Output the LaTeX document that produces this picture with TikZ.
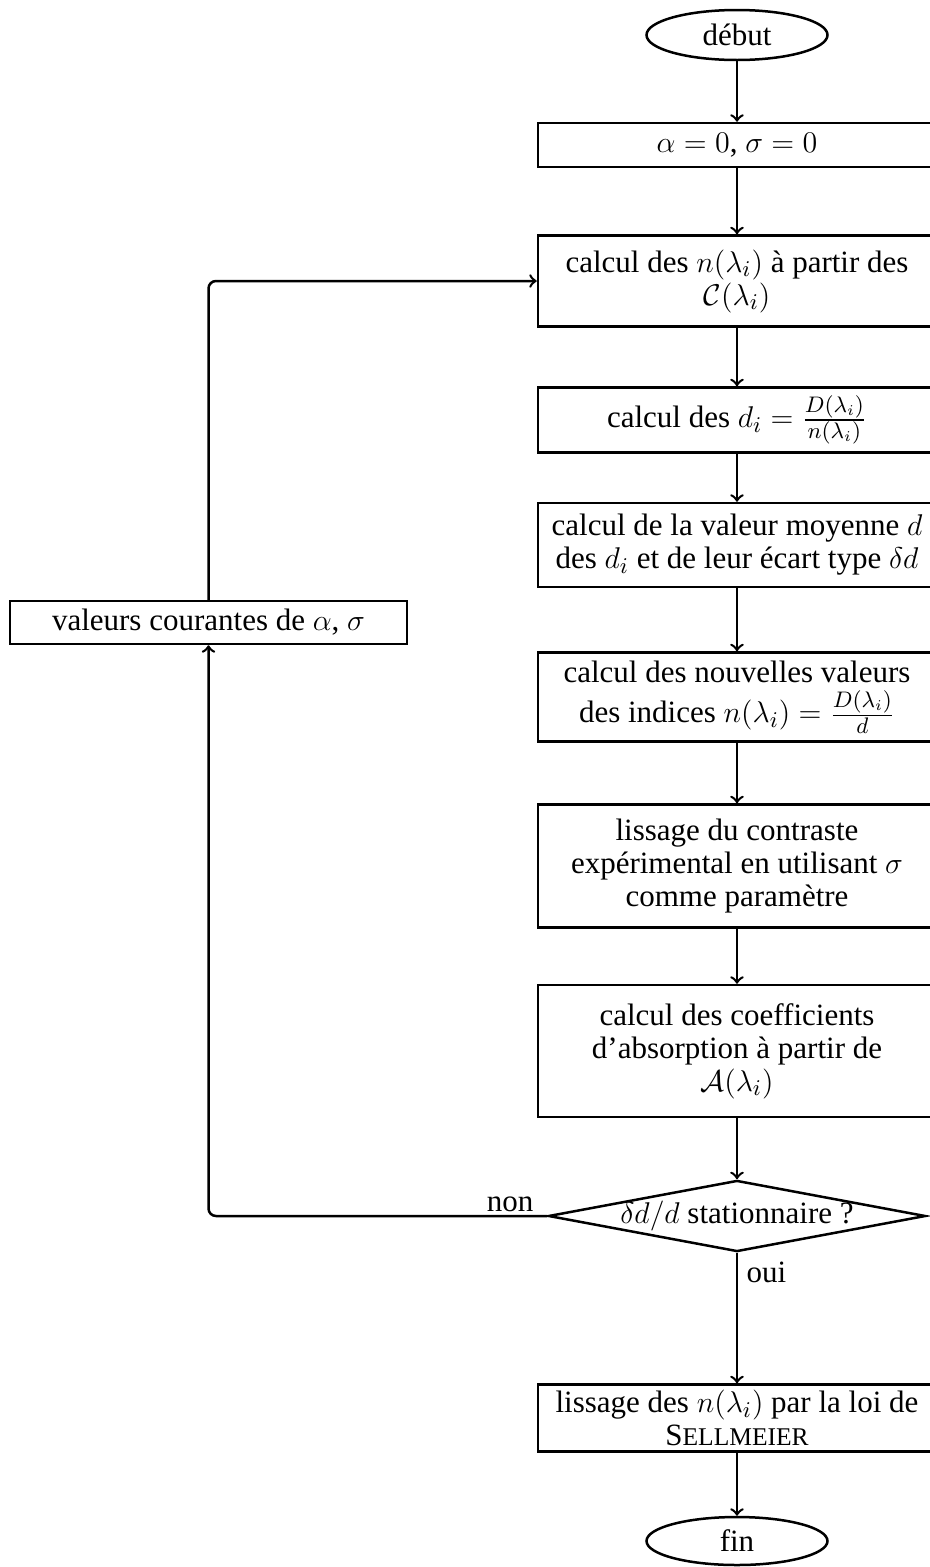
\documentclass[tikz,border=0pt]{standalone}
\usepackage{amssymb}
\usepackage{amsmath}
\usepackage{fontspec}
\setmainfont{Liberation Serif}
\usepackage{tikz}
\usetikzlibrary{shapes.geometric}

\begin{document}
\begin{tikzpicture}[x=0.4pt,y=-0.4pt,line width=1pt,>=to]
	\tikzstyle{every node}+=[font={\fontsize{12.4}{13.2}\selectfont}]
	\tikzstyle{terminal}=[draw,ellipse,minimum width=72.4pt,minimum height=20pt,inner sep=0pt]
	\tikzstyle{etape}=[draw,rectangle,minimum width=159.2pt,align=center,inner sep=0pt]
	\tikzstyle{decision}=[draw,diamond,shape aspect=5.3,inner xsep=-3pt,inner ysep=0pt]
	\useasboundingbox (0,0) rectangle (930,1567);
	% colonne principale
	\node [terminal] (debut) at (737,35) {début};
	\node [etape,minimum height=17.6pt] (init) at (737,145) {$\alpha = 0$, $\sigma = 0$};
	\node [etape,minimum height=36.4pt] (calcn) at (737,281) {calcul des $n(\lambda_i)$ à partir des\\ $\mathcal{C}(\lambda_i)$};
	\node [etape,minimum height=26pt] (calcd) at (737,420) {calcul des $d_i = \frac{D(\lambda_i)}{n(\lambda_i)}$};
	\node [etape,minimum height=33.6pt] (moyenne) at (737,545) {calcul de la valeur moyenne $d$\\ des $d_i$ et de leur écart type $\delta d$};
	\node [etape,minimum height=35.6pt] (indices) at (737,697) {calcul des nouvelles valeurs\\[3pt] des indices $n(\lambda_i) = \frac{D(\lambda_i)}{d}$};
	\node [etape,minimum height=49.2pt] (lissage) at (737,866) {lissage du contraste\\ expérimental en utilisant $\sigma$\\ comme paramètre};
	\node [etape,minimum height=52.8pt] (absorb) at (737,1051) {calcul des coefficients\\ d'absorption à partir de\\ $\mathcal{A}(\lambda_i)$};
	\node [decision] (stat) at (737,1216) {$\delta d/d$ stationnaire ?};
	\node [etape,minimum height=26.8pt] (sellm) at (737,1418) {lissage des $n(\lambda_i)$ par la loi de\\ S{\fontsize{10.2}{10}\selectfont ELLMEIER}};
	\node [terminal,minimum height=19.2pt] (fin) at (737,1541) {fin};
	% boucle
	\node [etape,minimum width=158.8pt,minimum height=17.2pt] (courant) at (208.5,622.5) {valeurs courantes de $\alpha$, $\sigma$};
	\node [above left,inner sep=2pt,xshift=-3pt,yshift=-1pt] (non) at (stat.west) {non};
	\node [below right] (oui) at (stat.south) {oui};
	\draw [->] (debut) -- (init);
	\draw [->] (init) -- (calcn);
	\draw [->] (calcn) -- (calcd);
	\draw [->] (calcd) -- (moyenne);
	\draw [->] (moyenne) -- (indices);
	\draw [->] (indices) -- (lissage);
	\draw [->] (lissage) -- (absorb);
	\draw [->] (absorb) -- (stat);
	\draw [->] (stat) -- (sellm);
	\draw [->] (sellm) -- (fin);
	\draw [->,rounded corners=3pt] (stat.west) -| (courant.south);
	\draw [->,rounded corners=3pt] (courant.north) |- (calcn.west);
\end{tikzpicture}
\end{document}
